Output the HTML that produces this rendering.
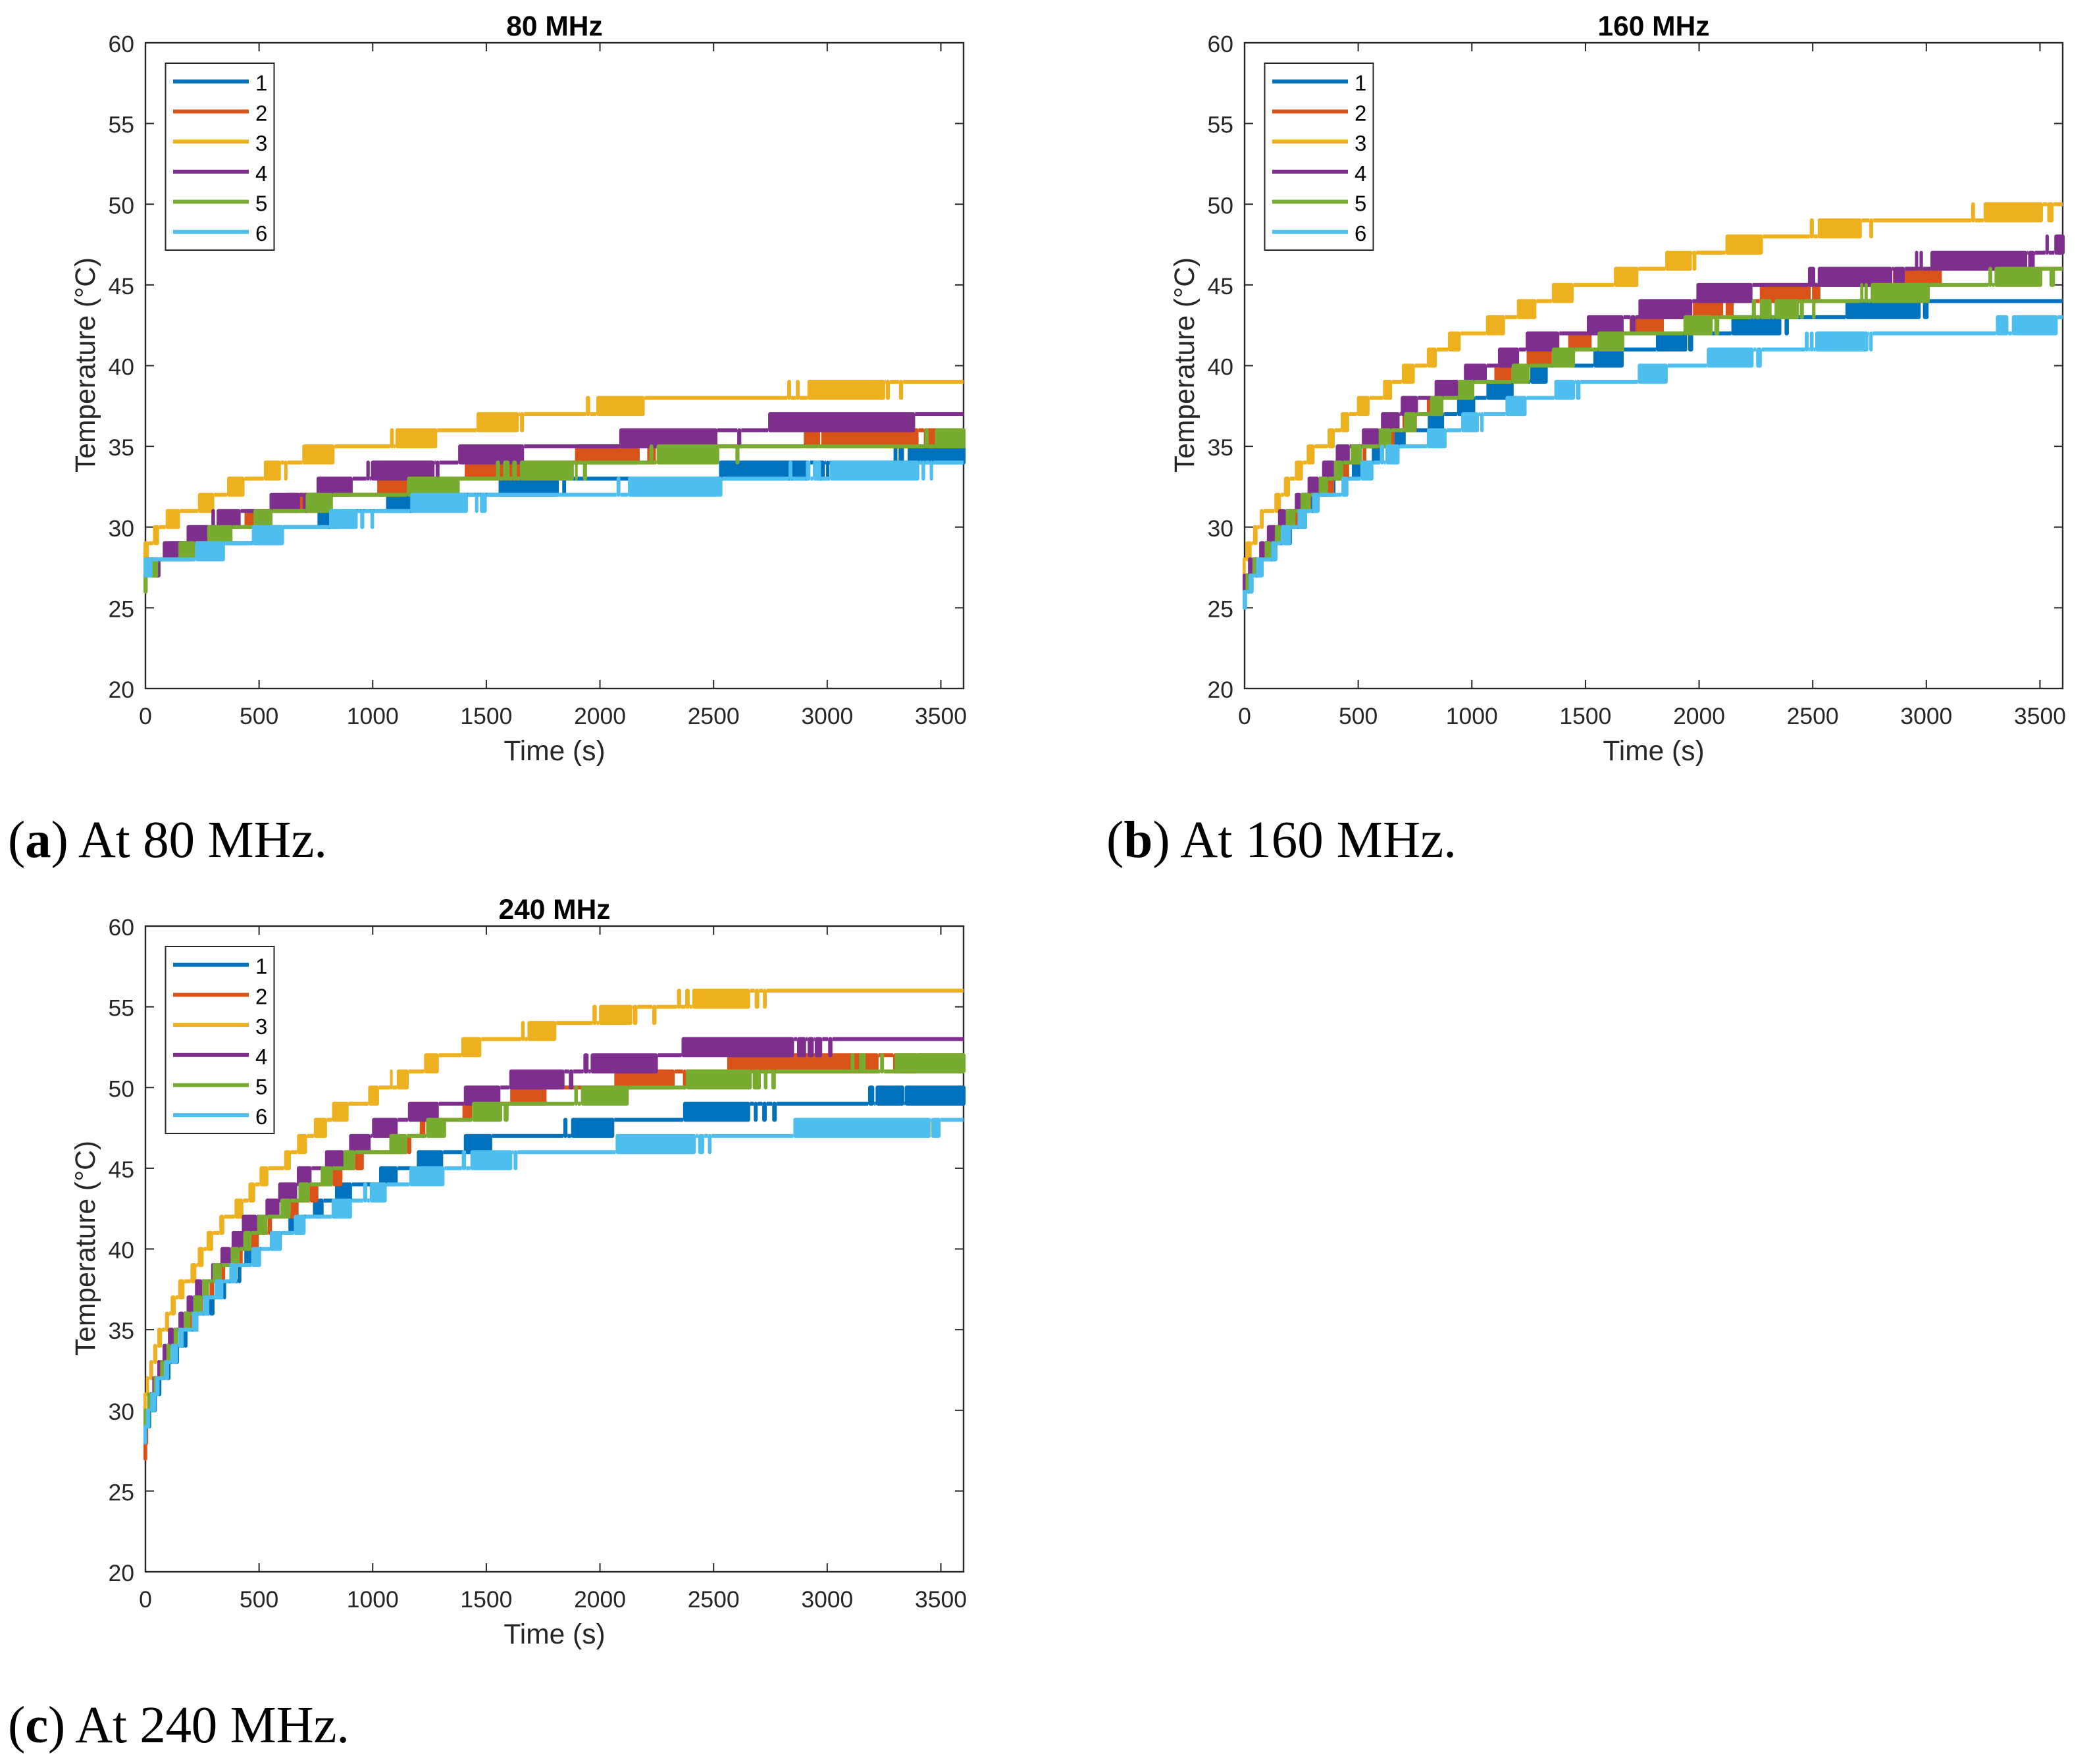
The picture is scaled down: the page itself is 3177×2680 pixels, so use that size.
<!DOCTYPE html>
<html lang="en">
<head>
<meta charset="utf-8">
<title>Temperature over time at 80, 160 and 240 MHz</title>
<style>
html,body{margin:0;padding:0;background:#fff;}
svg{display:block;}
.sans{font-family:"Liberation Sans",Arial,sans-serif;}
.serif{font-family:"Liberation Serif","Times New Roman",serif;}
</style>
</head>
<body>
<svg id="figure" xmlns="http://www.w3.org/2000/svg" width="3177" height="2680" viewBox="0 0 3177 2680">
<rect x="0" y="0" width="3177" height="2680" fill="#ffffff"/>
<text class="serif" x="12" y="1302" font-size="79" textLength="485" lengthAdjust="spacing" fill="#000">(<tspan font-weight="bold">a</tspan>) At 80 MHz.</text>
<text class="serif" x="1681" y="1302" font-size="79" textLength="532" lengthAdjust="spacing" fill="#000">(<tspan font-weight="bold">b</tspan>) At 160 MHz.</text>
<text class="serif" x="12" y="2647" font-size="79" textLength="519" lengthAdjust="spacing" fill="#000">(<tspan font-weight="bold">c</tspan>) At 240 MHz.</text>
</svg>
<script>
// Each row: [start time (s), end time (s), lower temperature (°C)].
// During a row the sensor toggles between lower and lower + 1 °C.
const xTicks=[0,500,1000,1500,2000,2500,3000,3500];
const yTicks=[20,25,30,35,40,45,50,55,60];
const legendLabels=['1','2','3','4','5','6'];
const seriesColors=['#0072BD','#D95319','#EDB120','#7E2F8E','#77AC30','#4DBEEE'];

// 80 MHz
const mhz80s1=[[0,66,27],[100,215,28],[470,608,29],[757,860,30],[1059,1180,31],[1554,1819,32],[1834,1851,32],[2524,2925,33],[2950,2990,33],[2995,3010,33],[3292,3309,34],[3314,3338,34],[3354,3600,34]];
const mhz80s2=[[0,57,27],[130,212,28],[280,380,29],[436,550,30],[610,760,31],[1020,1151,32],[1405,1650,33],[1890,2175,34],[2208,2246,34],[2897,2969,35],[2974,3402,35],[3425,3600,35]];
const mhz80s3=[[0,15,28],[33,60,29],[89,152,30],[231,303,31],[359,436,32],[521,596,33],[610,625,33],[690,832,34],[1076,1093,35],[1100,1284,35],[1457,1643,36],[1648,1666,36],[1938,1957,37],[1984,2197,37],[2824,2841,38],[2862,2879,38],[2913,3255,38],[3258,3276,38],[3316,3334,38]];
const mhz80s4=[[0,66,27],[76,175,28],[181,290,29],[290,306,30],[313,419,30],[546,680,31],[693,720,31],[753,912,32],[972,987,33],[992,1272,33],[1277,1294,33],[1376,1666,34],[2085,2517,35],[2604,2622,35],[2740,3387,36]];
const mhz80s5=[[0,10,26],[15,56,27],[145,219,28],[272,383,29],[475,559,30],[705,825,31],[1151,1383,32],[1542,1560,33],[1574,1602,33],[1614,1634,33],[1648,1885,33],[1890,1902,33],[1925,1943,33],[2218,2235,34],[2249,2525,34],[2596,2614,34],[3429,3447,35],[3474,3600,35]];
const mhz80s6=[[0,31,27],[219,350,28],[468,610,29],[808,934,30],[945,963,30],[990,1006,30],[1165,1419,31],[1450,1465,31],[1472,1502,31],[2073,2090,32],[2123,2539,32],[2830,2847,33],[2906,2926,33],[2937,2973,33],[3012,3405,33],[3415,3431,33],[3451,3466,33]];

// 160 MHz
const mhz160s1=[[0,8,25],[10,25,26],[40,82,27],[100,144,28],[170,208,29],[220,275,30],[290,330,31],[393,400,32],[472,510,33],[560,596,34],[658,709,35],[806,878,36],[935,1015,37],[1064,1184,38],[1257,1334,39],[1535,1668,40],[1810,1948,41],[1952,1974,41],[2142,2362,42],[2376,2395,42],[2644,2975,43],[2985,3010,43]];
const mhz160s2=[[0,10,26],[20,35,27],[70,90,28],[110,140,29],[190,235,30],[253,293,31],[365,393,32],[420,460,33],[519,536,34],[600,660,35],[695,758,36],[802,840,37],[960,1000,38],[1099,1175,39],[1241,1352,40],[1424,1527,41],[1694,1698,42],[1721,1845,42],[1973,2106,43],[2117,2152,43],[2267,2491,44],[2497,2534,44],[2853,2858,45],[2906,3068,45]];
const mhz160s3=[[0,5,27],[4,31,28],[37,57,29],[67,84,30],[131,160,31],[173,200,32],[221,257,33],[273,308,34],[365,397,35],[423,460,36],[494,550,37],[609,649,38],[692,749,39],[802,846,40],[895,951,41],[1062,1146,42],[1198,1284,43],[1352,1448,44],[1625,1733,45],[1851,1968,46],[1971,1988,46],[2116,2281,47],[2487,2505,48],[2522,2716,48],[2749,2766,48],[3197,3214,49],[3252,3513,49],[3532,3560,49]];
const mhz160s4=[[0,5,26],[15,35,27],[64,88,28],[98,137,29],[147,181,30],[221,250,31],[277,327,32],[341,397,33],[401,463,34],[516,593,35],[600,682,36],[687,763,37],[836,942,38],[965,1066,39],[1115,1208,40],[1237,1385,41],[1506,1668,42],[1697,1721,42],[1733,1970,43],[1988,2235,44],[2479,2511,45],[2522,2850,45],[2856,2906,45],[2950,2964,46],[2970,2985,46],[3018,3444,46],[3448,3477,46],[3524,3539,47],[3563,3600,47]];
const mhz160s5=[[0,5,25],[4,18,26],[35,51,27],[88,117,28],[133,160,29],[181,224,30],[246,290,31],[326,367,32],[393,434,33],[466,516,34],[590,646,35],[702,756,36],[816,875,37],[939,1011,38],[1175,1255,39],[1352,1454,40],[1553,1671,41],[1931,2060,42],[2067,2089,42],[2232,2250,43],[2267,2319,43],[2332,2439,43],[2443,2461,43],[2497,2512,43],[2709,2723,44],[2728,2742,44],[2755,3015,44],[3273,3290,45],[3300,3510,45],[3542,3566,45]];
const mhz160s6=[[0,11,25],[18,40,26],[51,84,27],[117,144,28],[160,204,29],[233,275,30],[297,330,31],[426,457,32],[510,567,33],[596,614,34],[620,682,34],[802,889,35],[953,1031,36],[1037,1052,36],[1148,1241,37],[1363,1454,38],[1458,1478,38],[1730,1862,39],[2034,2240,40],[2251,2276,40],[2465,2482,41],[2487,2504,41],[2511,2745,41],[2749,2764,41],[3306,3361,42],[3376,3578,42]];

// 240 MHz
const mhz240s1=[[0,8,28],[8,25,29],[30,50,30],[50,70,31],[85,110,32],[120,148,33],[168,185,34],[225,233,35],[280,304,36],[341,355,37],[405,422,38],[435,466,39],[548,600,40],[629,655,41],[737,784,42],[834,909,43],[1028,1110,44],[1194,1310,45],[1401,1526,46],[1839,1857,47],[1873,2063,47],[2366,2661,48],[2677,2694,48],[2714,2734,48],[2758,2778,48],[3180,3207,49],[3213,3339,49],[3341,3600,49]];
const mhz240s2=[[0,8,27],[8,12,28],[12,20,29],[22,30,30],[36,44,31],[55,66,32],[80,95,33],[110,125,34],[170,205,35],[233,252,36],[282,302,37],[334,351,38],[414,428,39],[466,499,40],[538,557,41],[638,674,42],[722,761,43],[823,867,44],[922,961,45],[1151,1170,46],[1207,1232,47],[1395,1437,48],[1605,1765,49],[2063,2329,50],[2365,2379,50],[2560,3226,51],[3290,3400,51]];
const mhz240s3=[[0,5,30],[2,16,31],[17,34,32],[34,52,33],[52,73,34],[86,104,35],[111,133,36],[144,172,37],[198,224,38],[230,256,39],[269,298,40],[325,347,41],[392,431,42],[453,483,43],[502,541,44],[610,640,45],[667,711,46],[741,799,47],[821,894,48],[980,1028,49],[1076,1088,50],[1106,1159,50],[1226,1291,51],[1390,1478,52],[1653,1669,53],[1681,1808,53],[1967,1986,54],[1996,2142,54],[2145,2165,54],[2230,2249,54],[2339,2357,55],[2375,2395,55],[2406,2661,55],[2681,2701,55],[2717,2734,55]];
const mhz240s4=[[0,6,29],[8,20,30],[30,36,31],[52,65,32],[75,95,33],[99,125,34],[145,169,35],[181,211,36],[218,250,37],[289,298,38],[330,375,39],[379,431,40],[424,492,41],[528,590,42],[584,668,43],[666,731,44],[790,873,45],[896,991,46],[997,1110,47],[1155,1291,48],[1401,1562,49],[1601,1844,50],[1863,1883,50],[1927,1950,51],[1959,2255,51],[2359,2854,52],[2867,2907,52],[2914,2941,52],[2945,2978,52],[3004,3023,52]];
const mhz240s5=[[0,6,29],[8,22,30],[36,43,31],[65,82,32],[92,111,33],[124,143,34],[168,198,35],[211,250,36],[250,280,37],[295,334,38],[375,414,39],[431,466,40],[492,537,41],[593,638,42],[673,722,43],[771,823,44],[871,922,45],[1073,1151,46],[1235,1323,47],[1437,1570,48],[1576,1598,48],[1887,1903,49],[1916,2127,49],[2379,2668,50],[2672,2708,50],[2721,2737,50],[2754,2774,50],[3103,3120,51],[3140,3169,51],[3233,3250,51],[3297,3600,51]];
const mhz240s6=[[0,6,28],[2,21,29],[21,47,30],[43,62,31],[82,104,32],[111,144,33],[144,168,34],[205,233,35],[253,280,36],[304,343,37],[369,403,38],[466,509,39],[547,599,40],[653,705,41],[819,909,42],[958,976,43],[987,1062,43],[1161,1316,44],[1392,1411,45],[1430,1614,45],[1620,1637,45],[2069,2422,46],[2432,2459,46],[2475,2491,46],[2851,3455,47],[3458,3499,47]];

const panelSeries80=[mhz80s1,mhz80s2,mhz80s3,mhz80s4,mhz80s5,mhz80s6];
const panelSeries160=[mhz160s1,mhz160s2,mhz160s3,mhz160s4,mhz160s5,mhz160s6];
const panelSeries240=[mhz240s1,mhz240s2,mhz240s3,mhz240s4,mhz240s5,mhz240s6];

const NS='http://www.w3.org/2000/svg';
const figure=document.getElementById('figure');
const AXIS='#262626';
const PLOT_W=1243, PLOT_H=981, X_MAX=3600, Y_MIN=20, Y_MAX=60, LINE_W=6;

function mk(tag,attrs,parent){
  const el=document.createElementNS(NS,tag);
  for(const k in attrs){el.setAttribute(k,attrs[k]);}
  parent.appendChild(el);
  return el;
}

// Level held while waiting between two consecutive rows
function gapLevel(rows,i){
  const prev=rows[i-1], cur=rows[i];
  if(cur[2]!==prev[2]){return cur[2];}
  let best=-1, bestLen=-1;
  for(let j=0;j<rows.length;j++){
    if(rows[j][2]===cur[2] && rows[j][1]-rows[j][0]>bestLen){
      bestLen=rows[j][1]-rows[j][0];
      best=j;
    }
  }
  return best>=i ? cur[2] : cur[2]+1;
}

function drawPanel(panelName,left,top,titleText,seriesList){
  const xScale=t=>left+t*PLOT_W/X_MAX;
  const yScale=v=>top+(Y_MAX-v)*PLOT_H/(Y_MAX-Y_MIN);
  const right=xScale(X_MAX), bottom=yScale(Y_MIN);

  const g=mk('g',{},figure);
  
  

  const title=mk('text',{class:'sans',x:(left+right)/2,y:top-11,'text-anchor':'middle','font-size':42.5,'font-weight':'bold',fill:'#000'},g);
  title.textContent=titleText;
  
  

  const frame=mk('rect',{x:left,y:top,width:PLOT_W,height:PLOT_H,fill:'none',stroke:AXIS,'stroke-width':2.4},g);
  
  

  xTicks.forEach(function(v){
    const x=xScale(v);
    const t1=mk('line',{x1:x,x2:x,y1:bottom,y2:bottom-13,stroke:AXIS,'stroke-width':2},g);
    
    
    const t2=mk('line',{x1:x,x2:x,y1:top,y2:top+13,stroke:AXIS,'stroke-width':2},g);
    
    
    const lab=mk('text',{class:'sans',x:x,y:bottom+54,'text-anchor':'middle','font-size':35.5,fill:AXIS},g);
    lab.textContent=String(v);
    
    
  });
  yTicks.forEach(function(v){
    const y=yScale(v);
    const t1=mk('line',{x1:left,x2:left+13,y1:y,y2:y,stroke:AXIS,'stroke-width':2},g);
    
    
    const t2=mk('line',{x1:right,x2:right-13,y1:y,y2:y,stroke:AXIS,'stroke-width':2},g);
    
    
    const lab=mk('text',{class:'sans',x:left-17,y:y+14,'text-anchor':'end','font-size':35.5,fill:AXIS},g);
    lab.textContent=String(v);
    
    
  });

  const xt=mk('text',{class:'sans',x:(left+right)/2,y:bottom+109,'text-anchor':'middle','font-size':42.5,fill:AXIS},g);
  xt.textContent='Time (s)';
  
  

  const yx=left-77, yy=(top+bottom)/2-1;
  const yt=mk('text',{class:'sans',x:yx,y:yy,'text-anchor':'middle','font-size':42.6,fill:AXIS,transform:'rotate(-90 '+yx+' '+yy+')'},g);
  yt.textContent='Temperature (°C)';
  
  

  seriesList.forEach(function(rows,s){
    const color=seriesColors[s];
    const sg=mk('g',{fill:color},g);
    
    

    function holdLine(t0,t1,level){
      if(t1<=t0){return;}
      const r=mk('rect',{x:xScale(t0),y:yScale(level)-LINE_W/2,width:xScale(t1)-xScale(t0),height:LINE_W},sg);
      
      
    }

    rows.forEach(function(row,i){
      if(i===0){holdLine(0,row[0],row[2]);}
      else{holdLine(rows[i-1][1],row[0],gapLevel(rows,i));}
      let x0=xScale(row[0]), x1=xScale(row[1]);
      if(row[0]===0){x0-=LINE_W/2;}
      if(row[1]>=X_MAX){x1+=LINE_W/2;}
      const yTop=yScale(row[2]+1)-LINE_W/2, yBot=yScale(row[2])+LINE_W/2;
      const b=mk('rect',{x:x0,y:yTop,width:x1-x0,height:yBot-yTop,rx:3,ry:3},sg);
      
      
    });
    const last=rows[rows.length-1];
    holdLine(last[1],X_MAX,last[2]+1);
  });

  const lg=mk('g',{},g);
  
  
  const box=mk('rect',{x:left+30.5,y:top+31,width:165,height:284,fill:'#fff',stroke:AXIS,'stroke-width':2},lg);
  
  
  legendLabels.forEach(function(label,i){
    const ly=top+58.7+i*45.7;
    const sw=mk('rect',{x:left+42,y:ly-LINE_W/2,width:115,height:LINE_W,fill:seriesColors[i]},lg);
    
    
    const tx=mk('text',{class:'sans',x:left+167,y:ly+14,'font-size':33,fill:'#000'},lg);
    tx.textContent=label;
    
    
  });
}

drawPanel('chart-80-mhz',221,65,'80 MHz',panelSeries80);
drawPanel('chart-160-mhz',1891,65,'160 MHz',panelSeries160);
drawPanel('chart-240-mhz',221,1407,'240 MHz',panelSeries240);
</script>
</body>
</html>
